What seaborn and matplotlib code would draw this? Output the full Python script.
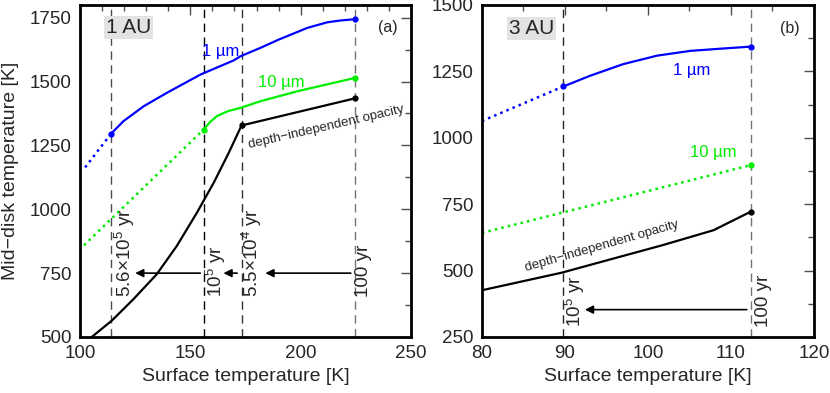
import numpy as np
import pandas as pd
import matplotlib
matplotlib.use("Agg")
import matplotlib.pyplot as plt
from matplotlib.ticker import MultipleLocator
import seaborn as sns

# ---- panel (a): 1 AU ----
a_blue_dot_x = [102.3, 114.1]
a_blue_dot_y = [1164, 1296]
a_blue_x = [114.1, 119.7, 128.8, 139.4, 154.5, 169.7, 172.7, 181.8, 190.0, 203.0, 212.1, 218.0, 224.5]
a_blue_y = [1296, 1345, 1403, 1456, 1527, 1583, 1599, 1632, 1664, 1710, 1732, 1739, 1744]
a_green_dot_x = [101.8, 156.0]
a_green_dot_y = [859, 1312]
a_green_x = [156.0, 159.0, 162.1, 167.0, 172.7, 181.8, 198.5, 224.5]
a_green_y = [1312, 1342, 1365, 1384, 1397, 1423, 1462, 1514]
a_black_x = [105.3, 114.4, 124.2, 134.8, 143.9, 153.0, 160.6, 167.4, 173.2, 224.5]
a_black_y = [500, 564, 648, 746, 857, 987, 1104, 1221, 1328, 1434]
a_vlines = [114.1, 156.0, 173.2, 224.5]
a_arrows = [(222.7, 184.0), (171.2, 165.0), (154.5, 125.0)]
a_arrow_y = 750
a_ages = ["5.6×10$^5$ yr", "10$^5$ yr", "5.5×10$^4$ yr", "100 yr"]
a_age_x = [120.5, 161.4, 178.0, 228.6]

# ---- panel (b): 3 AU ----
b_blue_dot_x = [80.0, 89.8]
b_blue_dot_y = [1063, 1193]
b_blue_x = [89.8, 93.0, 97.0, 101.1, 105.1, 109.1, 112.4]
b_blue_y = [1193, 1233, 1277, 1309, 1327, 1336, 1343]
b_green_x = [80.0, 112.4]
b_green_y = [642, 897]
b_black_x = [80.0, 89.6, 95.8, 101.8, 107.9, 112.4]
b_black_y = [426, 492, 545, 596, 652, 722]
b_vlines = [89.8, 112.4]
b_arrows = [(111.9, 92.4)]
b_arrow_y = 353
b_ages = ["10$^5$ yr", "100 yr"]
b_age_x = [91.2, 113.9]

sns.set_style("white")
plt.rcParams['font.family'] = ['Liberation Sans', 'DejaVu Sans']
plt.rcParams['mathtext.default'] = 'regular'
plt.rcParams['font.size'] = 13

BLUE = '#0000ff'
GREEN = '#00ee00'

fig = plt.figure(figsize=(8.3, 3.93), dpi=100)
ax1 = fig.add_axes([0.0964, 0.1425, 0.3988, 0.845])
ax2 = fig.add_axes([0.5807, 0.1425, 0.4, 0.845])


def curve(ax, xs, ys, color, ls='-', lw=1.6):
    d = pd.DataFrame({'x': xs, 'y': ys})
    sns.lineplot(data=d, x='x', y='y', ax=ax, color=color, linestyle=ls,
                 linewidth=lw, sort=False, estimator=None)


def dot(ax, x, y, color):
    ax.plot([x], [y], 'o', color=color, ms=3.5, zorder=5)


def style(ax, xlim, ylim, xmaj, xmin, ymaj, ymin):
    ax.set_xlim(*xlim)
    ax.set_ylim(*ylim)
    ax.xaxis.set_major_locator(MultipleLocator(xmaj))
    ax.xaxis.set_minor_locator(MultipleLocator(xmin))
    ax.yaxis.set_major_locator(MultipleLocator(ymaj))
    ax.yaxis.set_minor_locator(MultipleLocator(ymin))
    ax.tick_params(which='both', direction='in', top=True, right=True,
                   labelsize=13.5, color='0.3', width=1)
    ax.tick_params(which='major', length=7)
    ax.tick_params(which='minor', length=4)
    ax.tick_params(axis='x', pad=6)
    ax.tick_params(axis='y', pad=6)
    for s in ax.spines.values():
        s.set_linewidth(2)
        s.set_color('black')
    ax.set_xlabel('Surface temperature [K]', fontsize=14, labelpad=4)
    ax.set_ylabel('')


# panel (a)
for xv, c in zip(a_vlines, ['0.3', 'black', '0.2', '0.45']):
    ax1.axvline(xv, color=c, ls=(0, (6, 4)), lw=1)
curve(ax1, a_blue_dot_x, a_blue_dot_y, BLUE, ls=':', lw=1.8)
curve(ax1, a_blue_x, a_blue_y, BLUE)
curve(ax1, a_green_dot_x, a_green_dot_y, GREEN, ls=':', lw=1.8)
curve(ax1, a_green_x, a_green_y, GREEN)
curve(ax1, a_black_x, a_black_y, 'black')
dot(ax1, a_blue_x[0], a_blue_y[0], BLUE)
dot(ax1, a_blue_x[-1], a_blue_y[-1], BLUE)
dot(ax1, a_green_x[0], a_green_y[0], GREEN)
dot(ax1, a_green_x[-1], a_green_y[-1], GREEN)
dot(ax1, a_black_x[-2], a_black_y[-2], 'black')
dot(ax1, a_black_x[-1], a_black_y[-1], 'black')
for x0, x1 in a_arrows:
    ax1.annotate('', xy=(x1, a_arrow_y), xytext=(x0, a_arrow_y),
                 arrowprops=dict(arrowstyle='-|>', color='black', lw=1.2,
                                 mutation_scale=12, shrinkA=0, shrinkB=0))
for lab, xv in zip(a_ages, a_age_x):
    ax1.text(xv, 655, lab, rotation=90, ha='center', va='bottom', fontsize=13.5)
ax1.text(163.6, 1618, '1 µm', color=BLUE, fontsize=12, ha='center', va='center')
ax1.text(191, 1496, '10 µm', color=GREEN, fontsize=12, ha='center', va='center')
ax1.text(211.4, 1320, 'depth−independent opacity', fontsize=9.5,
         rotation=13, ha='center', va='center')
ax1.text(122, 1711, '1 AU', fontsize=15, ha='center', va='center',
         bbox=dict(facecolor='#e3e3e3', edgecolor='none', pad=1.5))
ax1.text(239.5, 1711, '(a)', fontsize=11.5, ha='center', va='center')
style(ax1, (100, 250), (500, 1800), 50, 10, 250, 125)
ax1.set_ylabel('Mid−disk temperature [K]', fontsize=14, labelpad=8)

# panel (b)
for xv, c in zip(b_vlines, ['0.15', '0.45']):
    ax2.axvline(xv, color=c, ls=(0, (6, 4)), lw=1)
curve(ax2, b_blue_dot_x, b_blue_dot_y, BLUE, ls=':', lw=1.8)
curve(ax2, b_blue_x, b_blue_y, BLUE)
curve(ax2, b_green_x, b_green_y, GREEN, ls=':', lw=1.8)
curve(ax2, b_black_x, b_black_y, 'black')
dot(ax2, b_blue_x[0], b_blue_y[0], BLUE)
dot(ax2, b_blue_x[-1], b_blue_y[-1], BLUE)
dot(ax2, b_green_x[-1], b_green_y[-1], GREEN)
dot(ax2, b_black_x[-1], b_black_y[-1], 'black')
for x0, x1 in b_arrows:
    ax2.annotate('', xy=(x1, b_arrow_y), xytext=(x0, b_arrow_y),
                 arrowprops=dict(arrowstyle='-|>', color='black', lw=1.2,
                                 mutation_scale=12, shrinkA=0, shrinkB=0))
for lab, xv in zip(b_ages, b_age_x):
    ax2.text(xv, 289, lab, rotation=90, ha='center', va='bottom', fontsize=13.5)
ax2.text(105.3, 1252, '1 µm', color=BLUE, fontsize=12, ha='center', va='center')
ax2.text(107.9, 944, '10 µm', color=GREEN, fontsize=12, ha='center', va='center')
ax2.text(94.5, 590, 'depth−independent opacity', fontsize=9.5,
         rotation=16, ha='center', va='center')
ax2.text(86, 1410, '3 AU', fontsize=15, ha='center', va='center',
         bbox=dict(facecolor='#e3e3e3', edgecolor='none', pad=1.5))
ax2.text(117.1, 1410, '(b)', fontsize=11.5, ha='center', va='center')
style(ax2, (80, 120), (250, 1500), 10, 5, 250, 125)

fig.savefig('out.png', dpi=100)
